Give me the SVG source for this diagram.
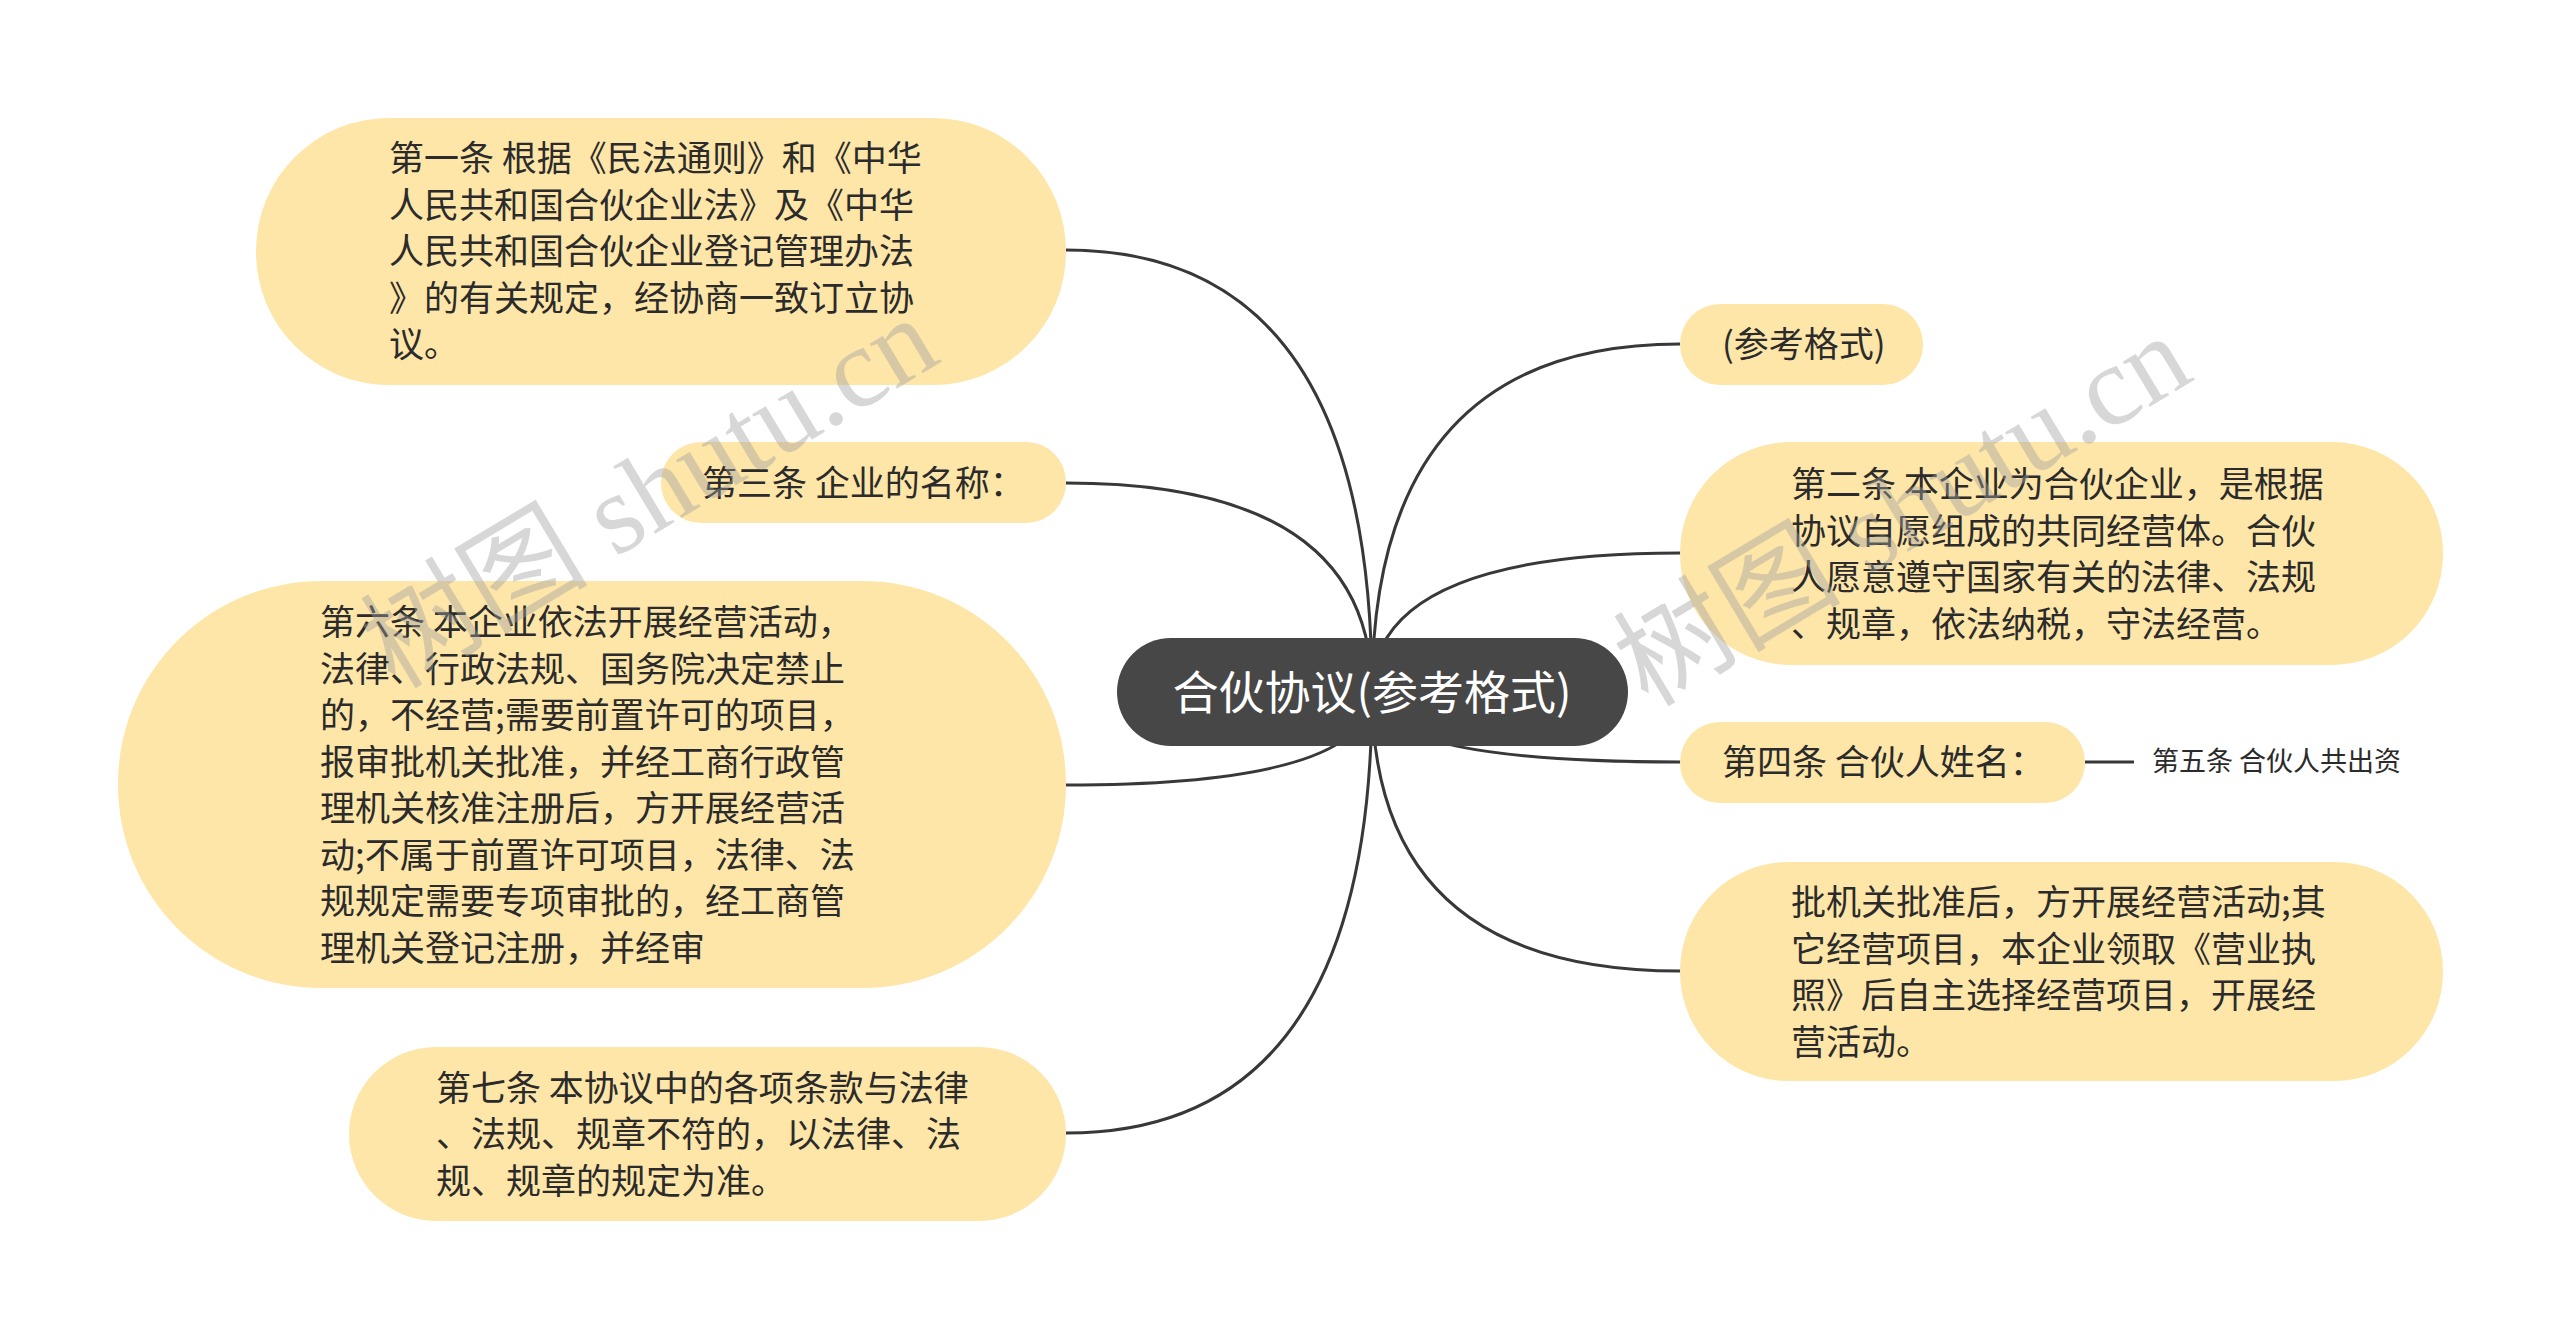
<svg xmlns="http://www.w3.org/2000/svg" width="2560" height="1338" viewBox="0 0 2560 1338">
<style>
.node{fill:#FEE6A8}
.t{font-family:"Noto Sans CJK SC","Noto Sans",sans-serif;font-size:35px;fill:#2b2b2b}
.c{fill:none;stroke:#383838;stroke-width:3}
.wm{font-family:"Liberation Serif","Noto Sans CJK SC",serif;font-size:114px;fill:#a0a0a0;fill-opacity:0.42}
</style>
<rect width="2560" height="1338" fill="#ffffff"/>
<g id="connectors">
<path class="c" d="M1372 692 Q1372 250 1066 250"/>
<path class="c" d="M1372 692 Q1372 483 1066 483"/>
<path class="c" d="M1372 692 Q1372 785 1066 785"/>
<path class="c" d="M1372 692 Q1372 1133 1066 1133"/>
<path class="c" d="M1372 692 Q1372 344 1680 344"/>
<path class="c" d="M1372 692 Q1372 553 1680 553"/>
<path class="c" d="M1372 692 Q1372 762 1680 762"/>
<path class="c" d="M1372 692 Q1372 971 1680 971"/>
<path class="c" d="M2085 762 L2134 762"/>
</g>
<g id="center">
<rect x="1117" y="638" width="511" height="108" rx="54" fill="#474747"/>
<text x="1372" y="709" text-anchor="middle" font-family="Noto Sans CJK SC, Noto Sans, sans-serif" font-size="46" fill="#ffffff">合伙协议(参考格式)</text>
</g>
<g id="n1">
<rect class="node" x="256" y="118" width="810" height="267" rx="133"/>
<text class="t"><tspan x="389" y="171">第一条 根据《民法通则》和《中华</tspan><tspan x="389" y="217.5">人民共和国合伙企业法》及《中华</tspan><tspan x="389" y="264">人民共和国合伙企业登记管理办法</tspan><tspan x="389" y="310.5">》的有关规定，经协商一致订立协</tspan><tspan x="389" y="357">议。</tspan></text>
</g>
<g id="n3">
<rect class="node" x="661" y="442" width="405" height="81" rx="40"/>
<text class="t" x="702" y="496">第三条 企业的名称：</text>
</g>
<g id="n6">
<rect class="node" x="118" y="581" width="948" height="407" rx="203"/>
<text class="t"><tspan x="320" y="635">第六条 本企业依法开展经营活动，</tspan><tspan x="320" y="681.5">法律、行政法规、国务院决定禁止</tspan><tspan x="320" y="728">的，不经营;需要前置许可的项目，</tspan><tspan x="320" y="774.5">报审批机关批准，并经工商行政管</tspan><tspan x="320" y="821">理机关核准注册后，方开展经营活</tspan><tspan x="320" y="867.5">动;不属于前置许可项目，法律、法</tspan><tspan x="320" y="914">规规定需要专项审批的，经工商管</tspan><tspan x="320" y="960.5">理机关登记注册，并经审</tspan></text>
</g>
<g id="n7">
<rect class="node" x="349" y="1047" width="717" height="174" rx="87"/>
<text class="t"><tspan x="436" y="1100.5">第七条 本协议中的各项条款与法律</tspan><tspan x="436" y="1147">、法规、规章不符的，以法律、法</tspan><tspan x="436" y="1193.5">规、规章的规定为准。</tspan></text>
</g>
<g id="n5">
<rect class="node" x="1680" y="304" width="243" height="81" rx="40"/>
<text class="t" x="1722" y="357">(参考格式)</text>
</g>
<g id="n2">
<rect class="node" x="1680" y="442" width="763" height="223" rx="111"/>
<text class="t"><tspan x="1791" y="497">第二条 本企业为合伙企业，是根据</tspan><tspan x="1791" y="543.5">协议自愿组成的共同经营体。合伙</tspan><tspan x="1791" y="590">人愿意遵守国家有关的法律、法规</tspan><tspan x="1791" y="636.5">、规章，依法纳税，守法经营。</tspan></text>
</g>
<g id="n4">
<rect class="node" x="1680" y="722" width="405" height="81" rx="40"/>
<text class="t" x="1722" y="775">第四条 合伙人姓名：</text>
</g>
<g id="n8">
<text x="2152" y="771" font-family="Noto Sans CJK SC, Noto Sans, sans-serif" font-size="27" fill="#2b2b2b">第五条 合伙人共出资</text>
</g>
<g id="n9">
<rect class="node" x="1680" y="862" width="763" height="219" rx="109"/>
<text class="t"><tspan x="1791" y="915">批机关批准后，方开展经营活动;其</tspan><tspan x="1791" y="961.5">它经营项目，本企业领取《营业执</tspan><tspan x="1791" y="1008">照》后自主选择经营项目，开展经</tspan><tspan x="1791" y="1054.5">营活动。</tspan></text>
</g>
<g id="watermark">
<text class="wm" transform="translate(395 690) rotate(-31)">树图 shutu.cn</text>
<text class="wm" transform="translate(1648 708) rotate(-31)">树图 shutu.cn</text>
</g>
</svg>
